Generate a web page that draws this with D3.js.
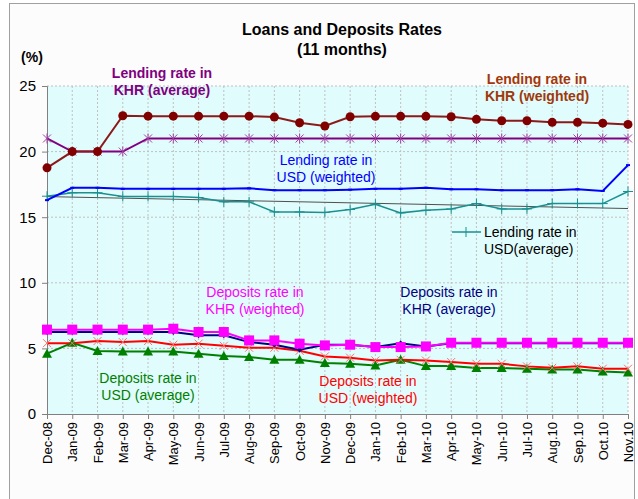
<!DOCTYPE html>
<html>
<head>
<meta charset="utf-8">
<script src="https://cdn.jsdelivr.net/npm/d3@7"></script>
<style>
  body { margin: 0; background: #fff; }
  text { font-family: Arial, "Liberation Sans", sans-serif; }
</style>
</head>
<body>
<svg id="chart" width="638" height="499"></svg>
<script>
"use strict";

// categories
const months = ["Dec-08", "Jan-09", "Feb-09", "Mar-09", "Apr-09", "May-09", "Jun-09", "Jul-09",
    "Aug-09", "Sep-09", "Oct-09", "Nov-09", "Dec-09", "Jan-10", "Feb-10", "Mar-10", "Apr-10",
    "May-10", "Jun-10", "Jul-10", "Aug.10", "Sep.10", "Oct.10", "Nov.10"];

// series values (%)
const lendKhrWeighted = [18.76, 20.0, 20.0, 22.73, 22.7, 22.7, 22.7, 22.7, 22.7, 22.63, 22.2, 21.95,
    22.66, 22.69, 22.69, 22.69, 22.66, 22.46, 22.35, 22.35, 22.23, 22.23, 22.17, 22.07];
const lendKhrAverage = [21.0, 20.0, 20.0, 20.0, 21.0, 21.0, 21.0, 21.0, 21.0, 21.0, 21.0, 21.0,
    21.0, 21.0, 21.0, 21.0, 21.0, 21.0, 21.0, 21.0, 21.0, 21.0, 21.0, 21.0];
const lendUsdWeighted = [16.3, 17.24, 17.24, 17.16, 17.16, 17.16, 17.16, 17.16, 17.2, 17.06, 17.06, 17.06,
    17.1, 17.16, 17.16, 17.24, 17.13, 17.13, 17.06, 17.06, 17.06, 17.13, 17.0, 18.97];
const lendUsdAverage = [16.6, 16.86, 16.86, 16.58, 16.58, 16.58, 16.5, 16.17, 16.17, 15.4, 15.4, 15.36,
    15.59, 15.99, 15.33, 15.53, 15.63, 16.04, 15.63, 15.63, 16.04, 16.04, 16.04, 16.96];
const lendUsdTrend = [16.57, 15.66]; // first and last month of the trend line
const depKhrWeighted = [6.43, 6.43, 6.43, 6.43, 6.43, 6.5, 6.25, 6.25, 5.61, 5.61, 5.36, 5.23,
    5.28, 5.1, 5.1, 5.15, 5.43, 5.43, 5.43, 5.43, 5.43, 5.43, 5.43, 5.43];
const depKhrAverage = [6.25, 6.25, 6.25, 6.25, 6.25, 6.25, 6.0, 6.0, 5.48, 5.28, 4.9, 5.28,
    5.28, 5.1, 5.4, 5.15, 5.4, 5.4, 5.4, 5.4, 5.4, 5.4, 5.4, 5.4];
const depUsdWeighted = [5.4, 5.4, 5.56, 5.48, 5.56, 5.28, 5.36, 5.2, 5.05, 5.05, 4.82, 4.39,
    4.29, 4.08, 4.13, 4.08, 3.96, 3.83, 3.83, 3.63, 3.52, 3.63, 3.45, 3.45];
const depUsdAverage = [4.6, 5.43, 4.8, 4.77, 4.77, 4.77, 4.6, 4.42, 4.34, 4.13, 4.13, 3.88,
    3.83, 3.7, 4.13, 3.65, 3.65, 3.5, 3.5, 3.45, 3.4, 3.4, 3.24, 3.17];

// y ticks
const yTicks = [0, 5, 10, 15, 20, 25];

const svg = d3.select("#chart");
const margin = {left: 47, right: 10, top: 86, bottom: 85};
const width = 628 - margin.left;
const height = 414 - margin.top;

// chart area frame
svg.append("rect")
    .attr("x", 9.5).attr("y", 3.5)
    .attr("width", 625).attr("height", 520)
    .style("fill", "#fcfcfc")
    .style("stroke", "#a0a0a0");

let g = svg.append("g").attr("transform", `translate(${margin.left},${margin.top})`);

let x = d3.scalePoint().domain(months).range([0, width]);
let y = d3.scaleLinear().domain([0, 25]).range([height, 0]);

// plot background
g.append("rect")
    .attr("width", width).attr("height", height)
    .style("fill", "#e0fcfc");

// gridlines
g.append("g").selectAll("line")
    .data(months.slice(1))
    .enter().append("line")
    .attr("x1", d => x(d)).attr("x2", d => x(d))
    .attr("y1", 0).attr("y2", height)
    .style("stroke", "#c0c0c0")
    .style("stroke-dasharray", "2,2");

g.append("g").selectAll("line")
    .data(yTicks.slice(1))
    .enter().append("line")
    .attr("x1", 0).attr("x2", width)
    .attr("y1", d => y(d)).attr("y2", d => y(d))
    .style("stroke", "#c0c0c0")
    .style("stroke-dasharray", "2,2");

// axes
let yAxis = g.append("g")
    .call(d3.axisLeft(y).tickValues(yTicks).tickSize(5).tickPadding(6));
let xAxis = g.append("g")
    .attr("transform", `translate(0,${height})`)
    .call(d3.axisBottom(x).tickSize(5).tickPadding(4).tickSizeOuter(0));

yAxis.select(".domain").style("stroke", "#808080");
xAxis.select(".domain").style("stroke", "#808080");
yAxis.selectAll(".tick line").style("stroke", "#808080");
xAxis.selectAll(".tick line").style("stroke", "#808080");

yAxis.selectAll("text")
    .style("font-size", "15px")
    .style("fill", "#000");

xAxis.selectAll("text")
    .style("font-size", "13px")
    .style("fill", "#000")
    .attr("text-anchor", "end")
    .attr("transform", "rotate(-90)")
    .attr("x", -8)
    .attr("y", 0)
    .attr("dy", "0.35em");

let line = d3.line()
    .x((d, i) => x(months[i]))
    .y(d => y(d));

function drawLine(data, color, w) {
    g.append("path")
        .datum(data)
        .attr("d", line)
        .style("fill", "none")
        .style("stroke", color)
        .style("stroke-width", w);
}

// trend line for lending rate in USD (average)
g.append("line")
    .attr("x1", x(months[0])).attr("y1", y(lendUsdTrend[0]))
    .attr("x2", x(months[months.length - 1])).attr("y2", y(lendUsdTrend[1]))
    .style("stroke", "#505050")
    .style("stroke-width", 1);

// lending lines
drawLine(lendUsdAverage, "#1a9090", 1.5);
drawLine(lendUsdWeighted, "#0000ff", 2);
drawLine(lendKhrAverage, "#800080", 2);
drawLine(lendKhrWeighted, "#8b1a1a", 2);

// deposit lines
drawLine(depUsdAverage, "#008000", 2);
drawLine(depUsdWeighted, "#ff0000", 2);
drawLine(depKhrAverage, "#000080", 2);
drawLine(depKhrWeighted, "#ff00ff", 2);

// markers
function markers(data, draw) {
    let sel = g.append("g").selectAll("g")
        .data(data)
        .enter().append("g")
        .attr("transform", (d, i) => `translate(${x(months[i])},${y(d)})`);
    draw(sel);
}

markers(lendUsdAverage, s => s.append("path")
    .attr("d", "M-5,0H5M0,-5V5")
    .style("stroke", "#1a9090").style("stroke-width", 1));

markers(lendUsdWeighted, s => s.append("rect")
    .attr("x", -2).attr("y", -1).attr("width", 4).attr("height", 2)
    .style("fill", "#0000ff"));

markers(lendKhrAverage, s => s.append("path")
    .attr("d", "M-4,-4L4,4M-4,4L4,-4M0,-5V5")
    .style("stroke", "#a040a0").style("stroke-width", 1));

markers(lendKhrWeighted, s => s.append("circle")
    .attr("r", 4.5)
    .style("fill", "#800000"));

markers(depUsdAverage, s => s.append("path")
    .attr("d", "M0,-5L5,4H-5Z")
    .style("fill", "#008000"));

markers(depUsdWeighted, s => s.append("path")
    .attr("d", "M-4,-4L4,4M-4,4L4,-4")
    .style("stroke", "#ff7070").style("stroke-width", 1));

markers(depKhrAverage, s => s.append("path")
    .attr("d", "M0,-3L2.5,0L0,3L-2.5,0Z")
    .style("fill", "#000080"));

markers(depKhrWeighted, s => s.append("rect")
    .attr("x", -5).attr("y", -5).attr("width", 10).attr("height", 10)
    .style("fill", "#ff00ff"));

// title
svg.append("text")
    .attr("x", 342).attr("y", 35)
    .attr("text-anchor", "middle")
    .style("font-size", "16px").style("font-weight", "bold")
    .text("Loans and Deposits Rates");
svg.append("text")
    .attr("x", 342).attr("y", 55)
    .attr("text-anchor", "middle")
    .style("font-size", "16px").style("font-weight", "bold")
    .text("(11 months)");

svg.append("text")
    .attr("x", 32).attr("y", 62)
    .attr("text-anchor", "middle")
    .style("font-size", "14px").style("font-weight", "bold")
    .text("(%)");

// series labels
function label(lines, cx, cy, color, bold) {
    let t = svg.append("text")
        .attr("text-anchor", "middle")
        .style("font-size", "14px")
        .style("font-weight", bold ? "bold" : "normal")
        .style("fill", color);
    lines.forEach((s, i) => {
        t.append("tspan").attr("x", cx).attr("y", cy + i * 17).text(s);
    });
}

label(["Lending rate in", "KHR (average)"], 162, 78, "#800080", true);
label(["Lending rate in", "KHR (weighted)"], 537, 84, "#a0380a", true);
label(["Lending rate in", "USD (weighted)"], 326, 165, "#0000ff", false);
label(["Deposits rate in", "KHR (weighted)"], 255, 297, "#ff00ff", false);
label(["Deposits rate in", "KHR (average)"], 449, 297, "#000080", false);
label(["Deposits rate in", "USD (average)"], 148, 383, "#008000", false);
label(["Deposits rate in", "USD (weighted)"], 368, 386, "#ff0000", false);

// legend entry for lending rate in USD (average)
svg.append("line")
    .attr("x1", 452).attr("x2", 481).attr("y1", 232).attr("y2", 232)
    .style("stroke", "#1a9090").style("stroke-width", 1.5);
svg.append("path")
    .attr("d", "M466,227V237")
    .style("stroke", "#1a9090");
let lt = svg.append("text")
    .style("font-size", "14px").style("fill", "#000");
lt.append("tspan").attr("x", 484).attr("y", 237).text("Lending rate in");
lt.append("tspan").attr("x", 484).attr("y", 254).text("USD(average)");
</script>
</body>
</html>
